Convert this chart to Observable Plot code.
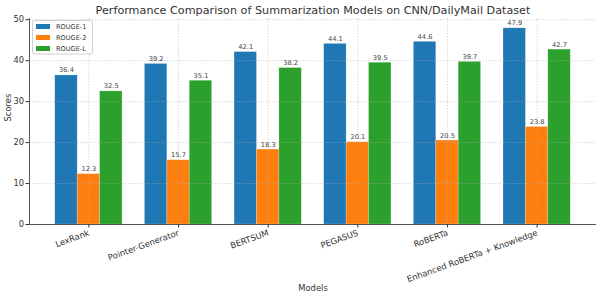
<!DOCTYPE html>
<html>
<head>
<meta charset="utf-8">
<script src="https://cdn.jsdelivr.net/npm/d3@7"></script>
<script src="https://cdn.jsdelivr.net/npm/@observablehq/plot@0.6"></script>
<style>
  html, body { margin: 0; padding: 0; background: #fff; }
  svg { font-family: "DejaVu Sans", sans-serif; }
</style>
</head>
<body>
<div id="chart"></div>
<script>
// Scores on CNN/DailyMail for each summarization model
const models = ["LexRank", "Pointer-Generator", "BERTSUM", "PEGASUS", "RoBERTa", "Enhanced RoBERTa + Knowledge"];
const metrics = ["ROUGE-1", "ROUGE-2", "ROUGE-L"];
const rouge1 = [36.4, 39.2, 42.1, 44.1, 44.6, 47.9];
const rouge2 = [12.3, 15.7, 18.3, 20.1, 20.5, 23.8];
const rougeL = [32.5, 35.1, 38.2, 39.5, 39.7, 42.7];
const yTicks = [0, 10, 20, 30, 40, 50];
const colors = ["#1f77b4", "#ff7f0e", "#2ca02c"];
const title = "Performance Comparison of Summarization Models on CNN/DailyMail Dataset";

// grouped bars: each model sits at an integer position, the three metrics side by side
const barWidth = 0.25;
const rows = [];
[rouge1, rouge2, rougeL].forEach((vals, j) => {
  vals.forEach((v, i) => {
    const c = i + (j - 1) * barWidth;
    rows.push({model: models[i], metric: metrics[j], value: v, x1: c - barWidth / 2, x2: c + barWidth / 2, xc: c});
  });
});
const xTicks = d3.range(models.length);
const pad = 1.5 * barWidth + 0.05 * (models.length - 1 + 3 * barWidth);
const xDomain = [-pad, models.length - 1 + pad];

const gridStyle = {stroke: "#b0b0b0", strokeOpacity: 0.6, strokeDasharray: "1.5,1.5", strokeWidth: 0.8};

const plot = Plot.plot({
  width: 601,
  height: 298,
  marginLeft: 29,
  marginRight: 5,
  marginTop: 18,
  marginBottom: 74,
  style: {fontFamily: "DejaVu Sans, sans-serif", background: "#fff", overflow: "visible"},
  x: {domain: xDomain, axis: null},
  y: {domain: [0, 50.3], axis: null},
  color: {domain: metrics, range: colors},
  marks: [
    Plot.rectY(rows, {x1: "x1", x2: "x2", y: "value", fill: "metric", stroke: "#ffffff", strokeOpacity: 0.35, strokeWidth: 0.6}),
    Plot.gridY(yTicks.slice(1), gridStyle),
    Plot.gridX(xTicks, gridStyle),
    Plot.text(rows, {x: "xc", y: "value", text: d => d.value.toFixed(1), dy: -3, lineAnchor: "bottom", fontSize: 6.7, fill: "#444"}),
    // spines
    Plot.ruleY([0], {stroke: "#555", strokeWidth: 1}),
    Plot.ruleX([xDomain[0]], {stroke: "#555", strokeWidth: 1}),
    // ticks and labels
    Plot.axisY(yTicks, {tickSize: 3.5, tickPadding: 2, fontSize: 8.3, color: "#333", label: null}),
    Plot.axisX(xTicks, {tickSize: 3.5, tickFormat: () => "", color: "#333", label: null}),
    Plot.text(xTicks, {x: d => d, text: d => models[d], frameAnchor: "bottom", rotate: -20, textAnchor: "end", lineAnchor: "top", dy: 5, dx: -1, fontSize: 8.4, fill: "#333"}),
    Plot.text(["Scores"], {frameAnchor: "left", rotate: -90, dx: -21, fontSize: 8.4, fill: "#333"}),
    Plot.text(["Models"], {frameAnchor: "bottom", dy: 66, lineAnchor: "bottom", fontSize: 8.4, fill: "#333"}),
    Plot.text([title], {frameAnchor: "top", dy: -5, lineAnchor: "bottom", fontSize: 11.2, fill: "#333"})
  ]
});

// legend in the upper-left corner of the plot area
const color = plot.scale("color");
const svg = d3.select(plot);
const lg = svg.append("g").attr("transform", "translate(32.5,20.5)").attr("text-anchor", "start");
lg.append("rect").attr("width", 60).attr("height", 33.5).attr("rx", 2)
  .attr("fill", "#fff").attr("fill-opacity", 0.8).attr("stroke", "#d0d0d0");
metrics.forEach((m, k) => {
  const cy = 6 + k * 11;
  lg.append("rect").attr("x", 3.5).attr("y", cy - 2.5).attr("width", 14).attr("height", 5).attr("fill", color.apply(m));
  lg.append("text").attr("x", 23.5).attr("y", cy).attr("dy", "0.35em")
    .attr("font-size", 6.6).attr("fill", "#333").text(m);
});

document.getElementById("chart").append(plot);
</script>
</body>
</html>
